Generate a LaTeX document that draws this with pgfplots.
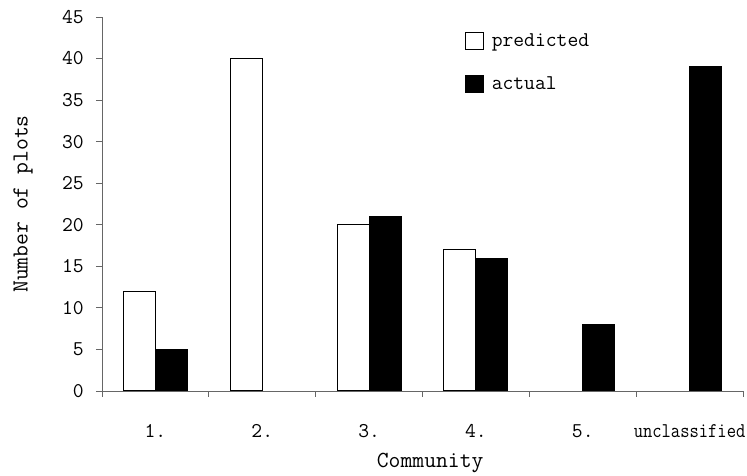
\documentclass[border=0pt]{standalone}
\usepackage{fontspec}
\usepackage{graphicx}
\usepackage{pgfplots}
\pgfplotsset{compat=1.18}
\begin{document}
\ttfamily\fontsize{21}{25}\selectfont
\begin{tikzpicture}
\begin{axis}[
  scale only axis, width=641pt, height=374pt,
  ybar=0pt, bar width=32pt,
  xmin=-0.5, xmax=5.5, ymin=0, ymax=45,
  axis x line*=bottom, axis y line*=left,
  axis line style={black!60, line width=0.8pt},
  /pgf/number format/assume math mode=true,
  tick label style={font=\ttfamily\fontsize{21}{25}\selectfont},
  tick align=outside,
  major tick length=6pt, minor tick length=6pt,
  xtick={0,1,2,3,4,5},
  xticklabels={1.,2.,3.,4.,5.,\scalebox{0.86}[1]{unclassified}},
  minor xtick={-0.5,0.5,1.5,2.5,3.5,4.5,5.5},
  major x tick style={draw=none},
  minor x tick style={black!60, line width=0.8pt},
  ytick={0,5,...,45},
  major y tick style={black!60, line width=0.8pt},
  xticklabel style={yshift=-20pt},
  yticklabel style={xshift=-5pt},
  xlabel={Community},
  ylabel={Number of plots},
  label style={font=\ttfamily\fontsize{23}{27}\selectfont},
  xlabel style={at={(axis description cs:0.512,-0.1925)}, anchor=center},
  ylabel style={at={(axis description cs:-0.1232,0.5)}, anchor=center, rotate=0},
  legend style={at={(axis description cs:0.566,0.962)}, anchor=north west,
    draw=none, fill=none, row sep=23pt, column sep=6pt, inner sep=0pt,
    nodes={inner sep=2pt}, font=\ttfamily\fontsize{21}{25}\selectfont},
  legend cell align=left,
  legend image code/.code={\draw[#1, draw=black, line width=0.8pt] (0pt,-8.5pt) rectangle (18pt,8.5pt);},
  clip=false,
]
\addplot[fill=white, draw=black, line width=1pt] coordinates {(0,12) (1,40) (2,20) (3,17)};
\addplot[fill=black, draw=black, line width=1pt] coordinates {(0,5) (2,21) (3,16) (4,8) (5,39)};
\legend{predicted, actual}
\end{axis}
\pgfresetboundingbox
\path (-102pt,-85pt) rectangle (645pt,391pt);
\end{tikzpicture}
\end{document}
